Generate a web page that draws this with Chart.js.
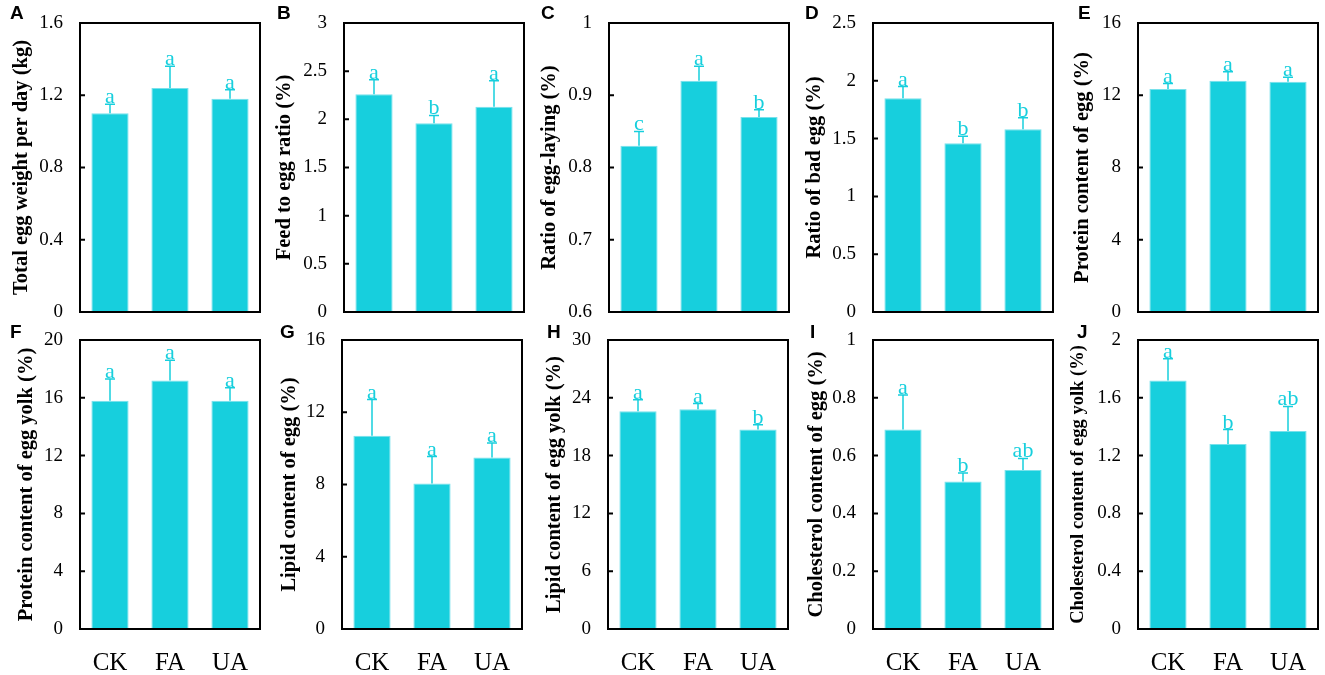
<!DOCTYPE html>
<html>
<head>
<meta charset="utf-8">
<script src="https://cdn.jsdelivr.net/npm/chart.js@4/dist/chart.umd.min.js"></script>
<style>
  body { margin: 0; background: #fff; }
  #wrap { position: relative; width: 1325px; height: 675px; overflow: hidden; }
  canvas { position: absolute; }
  .tag { position: absolute; font: bold 19px "Liberation Sans", Arial, sans-serif; color: #000; }
</style>
</head>
<body>
<div id="wrap"></div>
<script>
const groups = ["CK", "FA", "UA"];

// means, upper error (SD) and significance letters
const eggWeight = [1.10, 1.24, 1.18];
const eggWeightErr = [0.05, 0.12, 0.05];
const eggWeightSig = ["a", "a", "a"];

const feedRatio = [2.26, 1.96, 2.13];
const feedRatioErr = [0.15, 0.08, 0.27];
const feedRatioSig = ["a", "b", "a"];

const layingRatio = [0.83, 0.92, 0.87];
const layingRatioErr = [0.02, 0.02, 0.01];
const layingRatioSig = ["c", "a", "b"];

const badEgg = [1.85, 1.46, 1.58];
const badEggErr = [0.10, 0.06, 0.10];
const badEggSig = ["a", "b", "b"];

const proteinEgg = [12.35, 12.8, 12.75];
const proteinEggErr = [0.3, 0.5, 0.25];
const proteinEggSig = ["a", "a", "a"];

const proteinYolk = [15.8, 17.2, 15.8];
const proteinYolkErr = [1.5, 1.4, 0.9];
const proteinYolkSig = ["a", "a", "a"];

const lipidEgg = [10.7, 8.05, 9.5];
const lipidEggErr = [2.0, 1.5, 0.8];
const lipidEggSig = ["a", "a", "a"];

const lipidYolk = [22.6, 22.8, 20.7];
const lipidYolkErr = [1.2, 0.6, 0.5];
const lipidYolkSig = ["a", "a", "b"];

const cholEgg = [0.69, 0.51, 0.55];
const cholEggErr = [0.12, 0.03, 0.04];
const cholEggSig = ["a", "b", "ab"];

const cholYolk = [1.72, 1.28, 1.37];
const cholYolkErr = [0.15, 0.10, 0.17];
const cholYolkSig = ["a", "b", "ab"];

const CYAN = "rgb(23,207,221)";
const SERIF = '"Liberation Serif", "Times New Roman", serif';

const panels = [
    { tag: "A", title: "Total egg weight per day (kg)", v: eggWeight, e: eggWeightErr, s: eggWeightSig, min: 0, max: 1.6, step: 0.4 },
    { tag: "B", title: "Feed to egg ratio (%)", v: feedRatio, e: feedRatioErr, s: feedRatioSig, min: 0, max: 3, step: 0.5 },
    { tag: "C", title: "Ratio of egg-laying (%)", v: layingRatio, e: layingRatioErr, s: layingRatioSig, min: 0.6, max: 1, step: 0.1 },
    { tag: "D", title: "Ratio of bad egg (%)", v: badEgg, e: badEggErr, s: badEggSig, min: 0, max: 2.5, step: 0.5 },
    { tag: "E", title: "Protein content of egg (%)", v: proteinEgg, e: proteinEggErr, s: proteinEggSig, min: 0, max: 16, step: 4 },
    { tag: "F", title: "Protein content of egg yolk (%)", v: proteinYolk, e: proteinYolkErr, s: proteinYolkSig, min: 0, max: 20, step: 4 },
    { tag: "G", title: "Lipid content of egg (%)", v: lipidEgg, e: lipidEggErr, s: lipidEggSig, min: 0, max: 16, step: 4 },
    { tag: "H", title: "Lipid content of egg yolk (%)", v: lipidYolk, e: lipidYolkErr, s: lipidYolkSig, min: 0, max: 30, step: 6 },
    { tag: "I", title: "Cholesterol content of egg (%)", v: cholEgg, e: cholEggErr, s: cholEggSig, min: 0, max: 1, step: 0.2 },
    { tag: "J", title: "Cholesterol content of egg yolk (%)", v: cholYolk, e: cholYolkErr, s: cholYolkSig, min: 0, max: 2, step: 0.4 },
];

// layout: plot left edge, title centre offset, title size, tag position
const plotLefts = [80, 344, 609, 873, 1138, 80, 342, 608, 873, 1138];
const titleCenters = [22, 21, 21, 22, 25, 27, 28, 27, 24, 20];
const titleSizes = [20.5, 20.5, 20.5, 20.5, 20.5, 20.5, 20.5, 20.5, 20.5, 18.5];
const tagLefts = [10, 277, 541, 805, 1078, 10, 280, 547, 810, 1077];

const extras = {
    id: "extras",
    afterDatasetsDraw(chart, args, opts) {
        const { ctx, chartArea: a, scales: { y } } = chart;
        const meta = chart.getDatasetMeta(0);
        ctx.save();
        ctx.strokeStyle = CYAN;
        ctx.fillStyle = CYAN;
        ctx.lineWidth = 1.5;
        ctx.font = "22px " + SERIF;
        ctx.textAlign = "center";
        ctx.textBaseline = "alphabetic";
        meta.data.forEach((bar, i) => {
            const top = y.getPixelForValue(opts.v[i] + opts.e[i]);
            ctx.beginPath();
            ctx.moveTo(bar.x, bar.y);
            ctx.lineTo(bar.x, top);
            ctx.moveTo(bar.x - 5, top);
            ctx.lineTo(bar.x + 5, top);
            ctx.stroke();
            ctx.fillText(opts.s[i], bar.x, top - 1);
        });
        // frame and inward ticks
        ctx.strokeStyle = "#000";
        ctx.lineWidth = 2;
        ctx.strokeRect(a.left, a.top, a.right - a.left, a.bottom - a.top);
        ctx.beginPath();
        y.ticks.forEach((t, i) => {
            const py = y.getPixelForTick(i);
            ctx.moveTo(a.left, py);
            ctx.lineTo(a.left + 5, py);
        });
        ctx.stroke();
        ctx.restore();
    }
};

const wrap = document.getElementById("wrap");

panels.forEach((p, k) => {
    const bottomRow = k >= 5;
    const canvas = document.createElement("canvas");
    const w = 264, h = bottomRow ? 355 : 330;
    canvas.width = w;
    canvas.height = h;
    canvas.style.width = w + "px";
    canvas.style.height = h + "px";
    canvas.style.left = (plotLefts[k] - 80) + "px";
    canvas.style.top = (bottomRow ? 320 : 0) + "px";
    wrap.appendChild(canvas);

    const tag = document.createElement("div");
    tag.className = "tag";
    tag.textContent = p.tag;
    tag.style.left = tagLefts[k] + "px";
    tag.style.top = (bottomRow ? 321 : 2) + "px";
    wrap.appendChild(tag);

    const tSize = titleSizes[k];
    const lineH = tSize * 1.2;

    new Chart(canvas, {
        type: "bar",
        data: {
            labels: groups,
            datasets: [{
                data: p.v,
                backgroundColor: CYAN,
                borderColor: "rgb(120,225,235)",
                borderWidth: 1,
                barPercentage: 0.62,
                categoryPercentage: 1,
            }],
        },
        options: {
            responsive: false,
            animation: false,
            layout: { padding: { top: bottomRow ? 20 : 23, bottom: bottomRow ? 0 : 18, right: 4, left: 0 } },
            plugins: {
                legend: { display: false },
                tooltip: { enabled: false },
                extras: { v: p.v, e: p.e, s: p.s },
            },
            scales: {
                x: {
                    display: bottomRow,
                    grid: { display: false, drawTicks: true, tickLength: 17 },
                    border: { display: false },
                    ticks: { color: "#000", font: { family: SERIF, size: 25 }, padding: 2 },
                    afterFit(scale) { if (bottomRow) scale.height = 46; },
                },
                y: {
                    min: p.min,
                    max: p.max,
                    grid: { display: false, drawTicks: true, tickLength: 15 },
                    border: { display: false },
                    ticks: {
                        stepSize: p.step,
                        color: "#000",
                        font: { family: SERIF, size: 19 },
                        padding: 2,
                        callback: (val) => String(Number(val.toFixed(3))),
                    },
                    title: {
                        display: true,
                        text: p.title,
                        color: "#000",
                        font: { family: SERIF, size: tSize, weight: "bold" },
                        padding: { top: titleCenters[k] - lineH / 2, bottom: 0 },
                    },
                    afterFit(scale) { scale.width = 80; },
                },
            },
        },
        plugins: [extras],
    });
});
</script>
</body>
</html>
